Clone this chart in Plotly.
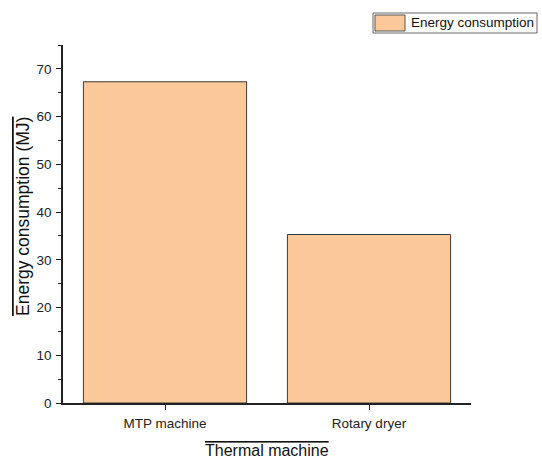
import plotly.graph_objects as go

# Energy consumed by each thermal machine (MJ)
machines = ["MTP machine", "Rotary dryer"]
energy_mj = [67.3, 35.3]
series_name = "Energy consumption"
x_title = "Thermal machine"
y_title = "Energy consumption (MJ)"

bar_fill = "#FBC999"
font_family = "Liberation Sans, Arial, sans-serif"

# plot area in pixels (used to place the legend and titles in paper units)
L, R, T, B = 63, 471, 45, 403
W, H = R - L, B - T


def px(x):
    return (x - L) / W


def py(y):
    return (B - y) / H


fig = go.Figure()
fig.add_trace(go.Bar(
    x=machines,
    y=energy_mj,
    width=0.8,
    name=series_name,
    marker=dict(color=bar_fill, line=dict(color="#3a3a3a", width=1)),
    showlegend=False,
))

# Legend: framed swatch + label in the top-right corner
fig.add_shape(type="rect", xref="paper", yref="paper",
              x0=px(373), x1=px(537), y0=py(33), y1=py(13),
              line=dict(color="#666666", width=1), fillcolor="white")
fig.add_shape(type="rect", xref="paper", yref="paper",
              x0=px(375), x1=px(405), y0=py(31), y1=py(15),
              line=dict(color="#555555", width=1), fillcolor=bar_fill)
fig.add_annotation(xref="paper", yref="paper",
                   x=px(409), y=py(23),
                   xanchor="left", yanchor="middle", showarrow=False,
                   text=series_name, font=dict(size=13.5, color="#111111"))

# Axis titles with an overline
fig.add_annotation(xref="paper", yref="paper", x=px(267), y=py(450),
                   xanchor="center", yanchor="middle", showarrow=False,
                   text=f'<span style="text-decoration: overline">{x_title}</span>',
                   font=dict(size=16, color="#111111"))
fig.add_annotation(xref="paper", yref="paper", x=px(23), y=py(217),
                   xanchor="center", yanchor="middle", showarrow=False,
                   textangle=-90,
                   text=f'<span style="text-decoration: overline">{y_title}</span>',
                   font=dict(size=17.5, color="#111111"))

fig.update_layout(
    width=542, height=459,
    margin=dict(l=L, r=542 - R, t=T, b=459 - B),
    paper_bgcolor="white", plot_bgcolor="white",
    font=dict(family=font_family, size=13, color="#222222"),
    bargap=0.2,
)

fig.update_xaxes(
    range=[-0.5, 1.5],
    showline=True, linecolor="#222222", linewidth=1.5,
    ticks="outside", ticklen=5, tickwidth=1, tickcolor="#222222",
    minor=dict(ticks="outside", ticklen=3, tickwidth=1, tickcolor="#222222", dtick=1, tick0=0.5),
    showgrid=False, zeroline=False,
    tickfont=dict(size=13.5),
    ticklabelstandoff=2,
)
fig.update_yaxes(
    range=[0, 75],
    tickvals=[0, 10, 20, 30, 40, 50, 60, 70],
    showline=True, linecolor="#222222", linewidth=1.5,
    ticks="outside", ticklen=5, tickwidth=1, tickcolor="#222222",
    minor=dict(ticks="outside", ticklen=3, tickwidth=1, tickcolor="#222222", dtick=5, tick0=5),
    showgrid=False, zeroline=False,
    tickfont=dict(size=13.5),
    ticklabelstandoff=2,
)

fig.write_html("out.html")
